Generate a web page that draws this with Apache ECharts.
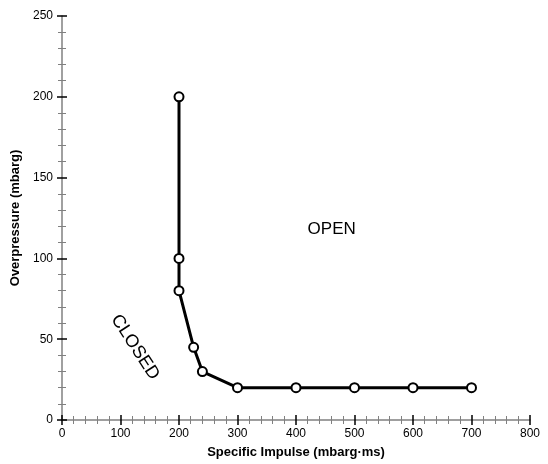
<!DOCTYPE html>
<html>
<head>
<meta charset="utf-8">
<script src="https://cdn.jsdelivr.net/npm/echarts@6/dist/echarts.min.js"></script>
<style>
  html, body { margin: 0; padding: 0; background: #fff; }
  #main { width: 548px; height: 464px; }
</style>
</head>
<body>
<div id="main"></div>
<script>
var impulse = [200, 200, 200, 225, 240, 300, 400, 500, 600, 700];
var overpressure = [200, 100, 80, 45, 30, 20, 20, 20, 20, 20];
var xTicks = [0, 100, 200, 300, 400, 500, 600, 700, 800];
var yTicks = [0, 50, 100, 150, 200, 250];
// region labels, placed in data units
var regionNames = ["OPEN", "CLOSED"];
var regionAt = [[461, 118], [125, 45]];

var chartDom = document.getElementById("main");
var myChart = echarts.init(chartDom);

var pts = [];
for (var i = 0; i < impulse.length; i++) {
  pts.push([impulse[i], overpressure[i]]);
}

var font = "Liberation Sans, Arial, sans-serif";

function axisX(inside, show) {
  return {
    type: "value", min: xTicks[0], max: xTicks[xTicks.length - 1], interval: 100, position: "bottom",
    name: show ? "Specific Impulse (mbarg·ms)" : "",
    nameLocation: "middle", nameGap: 26,
    nameTextStyle: { fontFamily: font, fontSize: 13, fontWeight: "bold", color: "#000" },
    axisLine: { show: show, onZero: false, lineStyle: { color: "#808080", width: 1.5 } },
    axisTick: { show: true, inside: inside, length: 5, lineStyle: { color: "#000", width: 1.5 } },
    minorTick: { show: true, splitNumber: 5, length: 4, lineStyle: { color: "#808080", width: 1 } },
    axisLabel: { show: show, fontFamily: font, fontSize: 12, color: "#000", margin: 8 },
    splitLine: { show: false }
  };
}

function axisY(inside, show) {
  return {
    type: "value", min: yTicks[0], max: yTicks[yTicks.length - 1], interval: 50, position: "left",
    name: show ? "Overpressure (mbarg)" : "",
    nameLocation: "middle", nameGap: 30,
    nameTextStyle: { fontFamily: font, fontSize: 13, fontWeight: "bold", color: "#000" },
    axisLine: { show: show, onZero: false, lineStyle: { color: "#808080", width: 1.5 } },
    axisTick: { show: true, inside: inside, length: 5, lineStyle: { color: "#000", width: 1.5 } },
    minorTick: { show: true, splitNumber: 5, length: 4, lineStyle: { color: "#808080", width: 1 } },
    axisLabel: { show: show, fontFamily: font, fontSize: 12, color: "#000", margin: 9 },
    splitLine: { show: false }
  };
}

var option = {
  animation: false,
  backgroundColor: "#fff",
  grid: { left: 62, right: 18, top: 16, bottom: 44 },
  xAxis: [axisX(false, true), axisX(true, false)],
  yAxis: [axisY(false, true), axisY(true, false)],
  series: [{
    type: "line",
    data: pts,
    xAxisIndex: 0,
    yAxisIndex: 0,
    symbol: "emptyCircle",
    symbolSize: 9,
    lineStyle: { color: "#000", width: 3 },
    itemStyle: { color: "#000", borderColor: "#000", borderWidth: 1.5 },
    z: 3
  }]
};

myChart.setOption(option);

var rot = [0, -57 * Math.PI / 180];
var sizes = [17, 18];
var texts = [];
for (var k = 0; k < regionNames.length; k++) {
  var p = myChart.convertToPixel({ xAxisIndex: 0, yAxisIndex: 0 }, regionAt[k]);
  texts.push({
    type: "text",
    x: p[0], y: p[1],
    rotation: rot[k],
    style: {
      text: regionNames[k], fill: "#000",
      font: sizes[k] + "px " + font,
      align: "center", verticalAlign: "middle"
    },
    silent: true
  });
}
myChart.setOption({ graphic: texts });
</script>
</body>
</html>
